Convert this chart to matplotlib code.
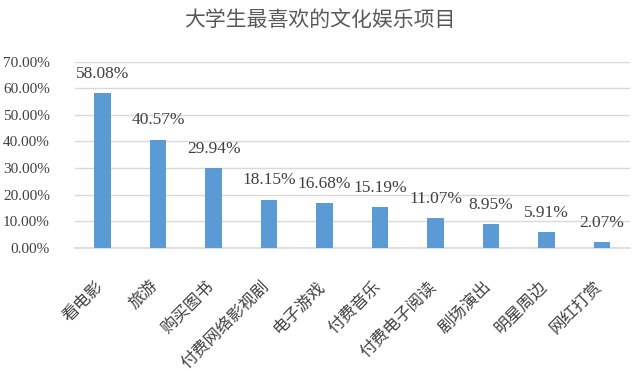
import numpy as np
import matplotlib.pyplot as plt
import matplotlib.transforms as mtrans
from matplotlib.ticker import FuncFormatter, MultipleLocator

# categories and shares (percent)
categories = ['看电影', '旅游', '购买图书', '付费网络影视剧', '电子游戏',
              '付费音乐', '付费电子阅读', '剧场演出', '明星周边', '网红打赏']
shares = [58.08, 40.57, 29.94, 18.15, 16.68, 15.19, 11.07, 8.95, 5.91, 2.07]
title = '大学生最喜欢的文化娱乐项目'

plt.rcParams['font.family'] = ['Liberation Serif', 'Noto Sans CJK SC', 'DejaVu Sans']

fig = plt.figure(figsize=(6.4, 3.71), dpi=100)
ax = fig.add_axes([0.117, 0.332, 0.867, 0.502])

x = np.arange(len(categories))
ax.bar(x, shares, width=0.3, color='#5b9bd5', zorder=3)

ax.set_xlim(-0.5, len(categories) - 0.5)
ax.set_ylim(0, 70)
ax.yaxis.set_major_locator(MultipleLocator(10))
ax.yaxis.set_major_formatter(FuncFormatter(lambda v, p: '%.2f%%' % v))
ax.grid(axis='y', color='#d9d9d9', lw=1, zorder=0)

for s in ['top', 'right', 'left']:
    ax.spines[s].set_visible(False)
ax.spines['bottom'].set_color('#d9d9d9')
ax.spines['bottom'].set_linewidth(1.2)

ax.tick_params(axis='y', length=0, pad=18, labelsize=11, labelcolor='#404040')
ax.tick_params(axis='x', length=0, pad=26)
ax.set_xticks(x)
ax.set_xticklabels(categories, rotation=45, ha='right', va='center',
                   rotation_mode='anchor', fontsize=12, color='#404040',
                   family=['Noto Sans CJK SC'])
# nudge rotated labels so their right end sits under the bar
shift = mtrans.ScaledTranslation(-0.02, 0, fig.dpi_scale_trans)
for lab in ax.get_xticklabels():
    lab.set_transform(lab.get_transform() + shift)

### data labels above bars
for i, v in enumerate(shares):
    ax.annotate('%.2f%%' % v, (i, v), xytext=(0, 14), textcoords='offset points',
                ha='center', va='center', fontsize=12.5, color='#404040')

fig.text(0.5, 0.945, title, ha='center', va='center', fontsize=15,
         color='#595959', family=['Noto Sans CJK SC'])

plt.savefig('out.png', dpi=100)
